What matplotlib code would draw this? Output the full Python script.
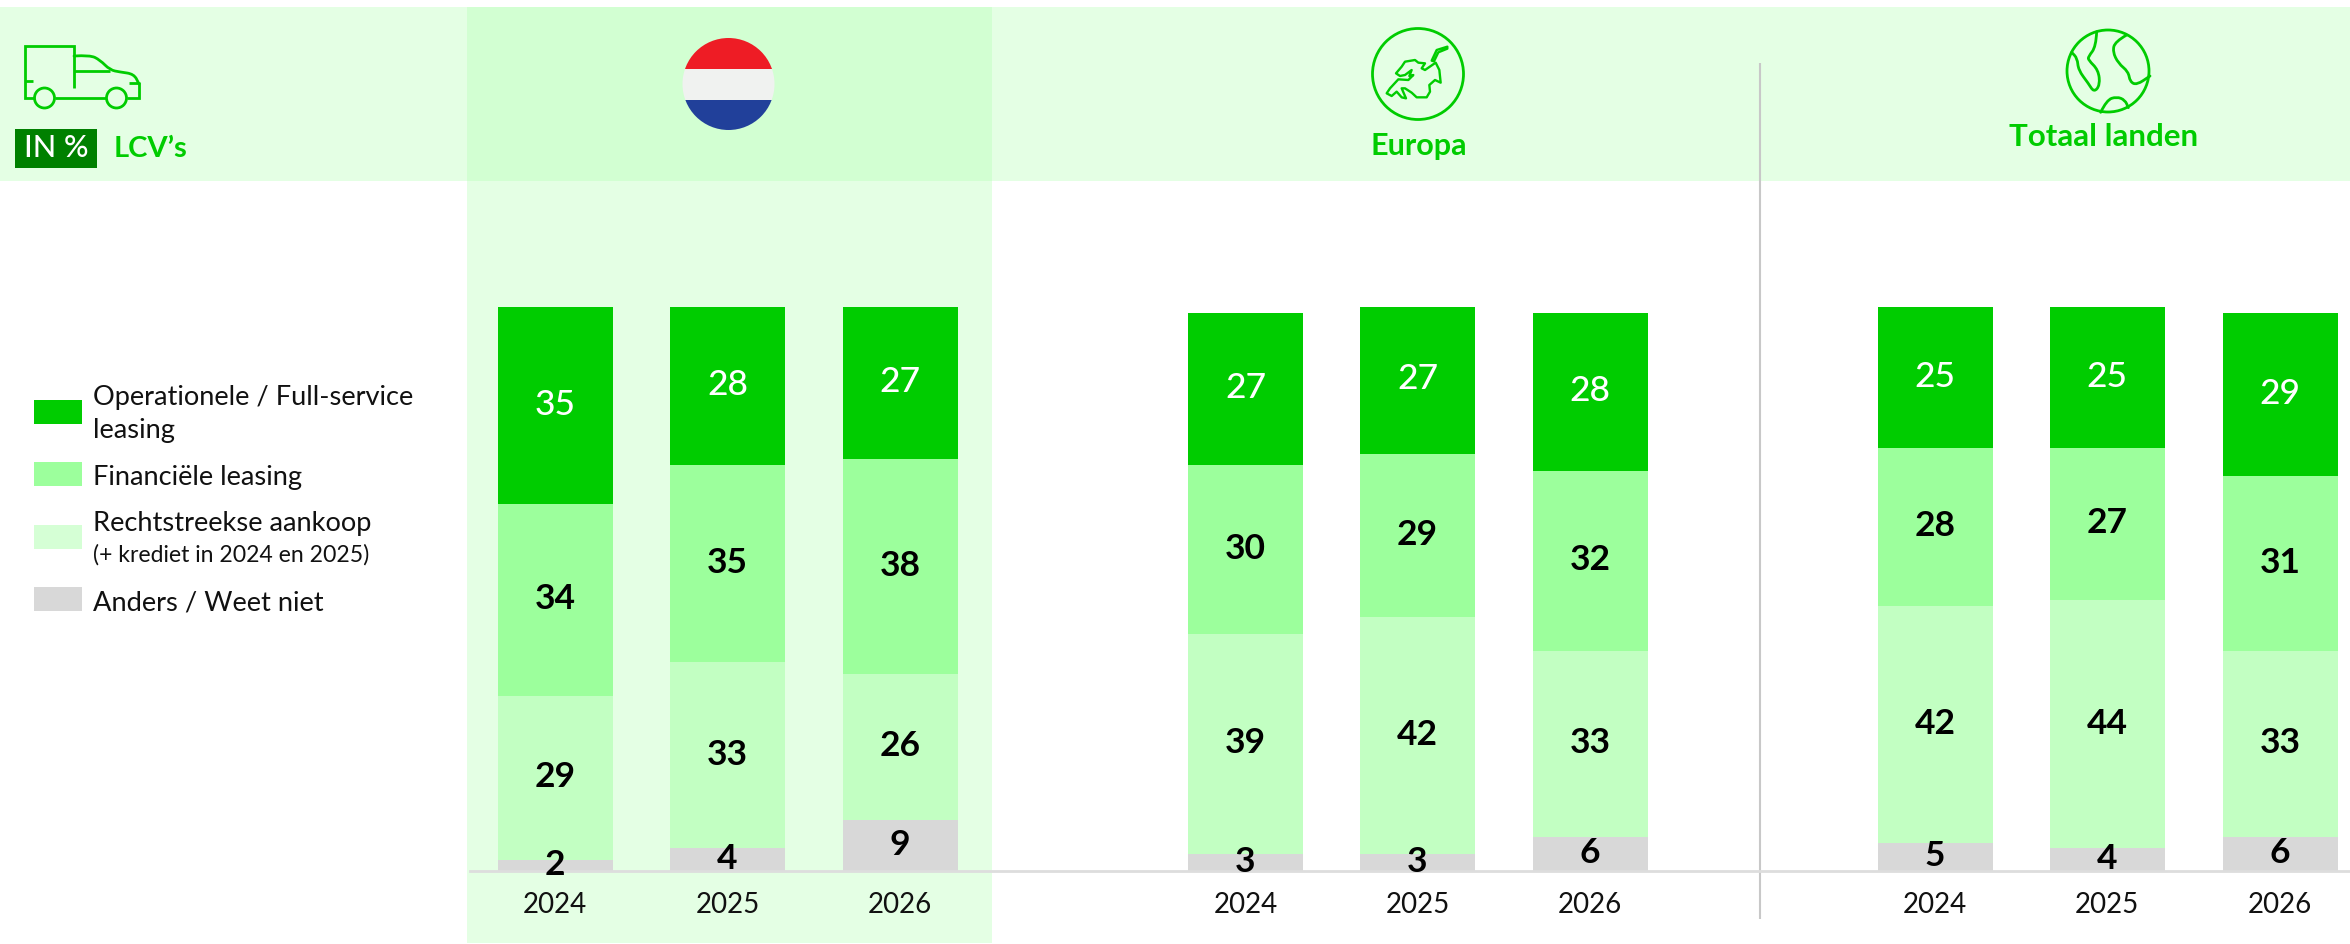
import matplotlib
matplotlib.use("Agg")
import matplotlib.pyplot as plt
from matplotlib.patches import Rectangle, Circle, PathPatch, Polygon
from matplotlib.path import Path

plt.rcParams["font.family"] = ["Lato", "DejaVu Sans"]

W, H = 2350, 944

# ── data ──
years = ["2024", "2025", "2026"]
operationeel = [35, 28, 27, 27, 26, 28, 25, 25, 29]
operationeel_labels = [35, 28, 27, 27, 27, 28, 25, 25, 29]
financieel = [34, 35, 38, 30, 29, 32, 28, 27, 31]
rechtstreeks = [29, 33, 26, 39, 42, 33, 42, 44, 33]
anders = [2, 4, 9, 3, 3, 6, 5, 4, 6]
legend_labels = ["Operationele / Full-service", "leasing", "Financiële leasing",
                 "Rechtstreekse aankoop", "(+ krediet in 2024 en 2025)", "Anders / Weet niet"]

GREEN, MID, LIGHT, GREY = "#00CC00", "#9CFF9C", "#C2FFC2", "#D8D8D8"
DARK, TXT = "#008000", "#111111"
BAND, BAND2 = "#E4FFE4", "#D2FFD2"
x_pos = [555, 727.5, 900, 1245.5, 1417.5, 1590, 1935, 2107, 2280]

fig = plt.figure(figsize=(W / 100, H / 100), dpi=100, facecolor="white")

# achtergrond en iconen in pixels
bg = fig.add_axes([0, 0, 1, 1], zorder=0)
bg.set_xlim(0, W); bg.set_ylim(H, 0); bg.axis("off")
bg.add_patch(Rectangle((0, 7), W, 174, fc=BAND, ec="none"))
bg.add_patch(Rectangle((467, 7), 525, 936, fc=BAND, ec="none"))
bg.add_patch(Rectangle((467, 7), 525, 174, fc=BAND2, ec="none"))
bg.plot([1760, 1760], [63, 919], color="#C8C8C8", lw=1.5, solid_capstyle="butt")


def smooth(pts):
    # kwadratische curve door de middens van de punten
    verts, codes = [pts[0]], [Path.MOVETO]
    for a, b in zip(pts[1:-1], pts[2:]):
        verts += [a, ((a[0] + b[0]) / 2, (a[1] + b[1]) / 2)]
        codes += [Path.CURVE3, Path.CURVE3]
    verts.append(pts[-1]); codes.append(Path.LINETO)
    return Path(verts, codes)


def stroke(pts, lw=2.0):
    bg.add_patch(PathPatch(smooth(pts), fc="none", ec=GREEN, lw=lw, capstyle="round", joinstyle="round"))


# vrachtwagen
kw = dict(color=GREEN, lw=2.0, solid_capstyle="butt", solid_joinstyle="miter")
bg.plot([74, 74, 24.5, 24.5, 35], [88, 45.5, 45.5, 98, 98], **kw)
bg.plot([55, 106], [98, 98], **kw)
bg.plot([127, 139, 139], [98, 98, 82], **kw)
bg.plot([74, 110], [71, 71], **kw)
bg.plot([24.5, 33], [80.5, 80.5], **kw)
bg.plot([129, 139], [82.5, 82.5], **kw)
stroke([(74, 56), (90, 55), (100, 60), (110, 70), (120, 72), (134, 74), (139, 84)])
for cx in (44.5, 116.5):
    bg.add_patch(Circle((cx, 98), 10, fc="none", ec=GREEN, lw=2.0))

bg.add_patch(Rectangle((15, 129), 82, 39, fc=DARK, ec="none"))
bg.text(56, 157, "IN %", color="white", fontsize=22, fontweight="medium", ha="center", va="baseline")
bg.text(114, 157, "LCV’s", color=GREEN, fontsize=21, fontweight="bold", ha="left", va="baseline")

# vlag
flag = Circle((728.5, 84), 46, transform=bg.transData)
for y0, h, col in [(38, 31, "#EE1C25"), (69, 31, "#F0F2F0"), (100, 31, "#21409A")]:
    r = Rectangle((680, y0), 97, h, fc=col, ec="none")
    bg.add_patch(r)
    r.set_clip_path(flag)

# Europa
bg.add_patch(Circle((1418, 74), 45.5, fc="none", ec=GREEN, lw=2.0))
eiland = [(232, 80), (200, 90), (185, 122), (192, 124), (205, 97), (232, 86)]
europa = [(197, 128), (208, 150), (212, 188), (195, 180), (178, 195),
          (180, 215), (170, 232), (140, 232), (125, 218), (105, 205), (95, 205), (108, 235), (95, 232),
          (80, 215), (65, 228), (50, 220), (60, 205), (85, 178), (115, 180), (130, 165), (118, 168),
          (125, 150), (105, 165), (90, 168), (78, 160), (95, 140), (105, 125), (135, 120), (145, 128),
          (165, 130), (155, 145), (165, 150)]
for vorm in (eiland, europa):
    bg.add_patch(Polygon([(1370 + x / 3, 20 + y / 3) for x, y in vorm], closed=True, fc="none", ec=GREEN,
                         lw=1.7, joinstyle="round"))
bg.text(1419, 155, "Europa", color=GREEN, fontsize=22, fontweight="bold", ha="center", va="baseline")

# wereldbol
bg.add_patch(Circle((2108, 71), 41, fc="none", ec=GREEN, lw=2.0))
for curve in (
    [(320, 50), (318, 95), (295, 125), (295, 135), (325, 165), (330, 210), (312, 232), (295, 205),
     (265, 165), (262, 130), (245, 112)],
    [(410, 60), (375, 80), (368, 110), (385, 145), (415, 170), (420, 200), (440, 210), (480, 183)],
    [(332, 292), (350, 255), (380, 245), (405, 255), (415, 278)],
):
    stroke([(1990 + x / 3, 15 + y / 3) for x, y in curve])
bg.text(2104, 146, "Totaal landen", color=GREEN, fontsize=22.5, fontweight="bold", ha="center", va="baseline")

# legenda
for y0, col in [(400, GREEN), (462, MID), (525, "#D5FFD5"), (587, GREY)]:
    bg.add_patch(Rectangle((34, y0), 48, 24, fc=col, ec="none"))
for lab, yb, fs in zip(legend_labels, [405, 438, 485, 531, 562, 611], [19.6, 19.6, 19.6, 19.6, 16.6, 19.6]):
    bg.text(93, yb, lab, color=TXT, fontsize=fs, ha="left", va="baseline")

# ── staven ──
ax = fig.add_axes([0, (H - 871) / H, 1, 564 / H], zorder=1)
ax.patch.set_visible(False)
ax.set_xlim(0, W); ax.set_ylim(0, 100)
bottom = [0] * 9
for vals, col in [(anders, GREY), (rechtstreeks, LIGHT), (financieel, MID), (operationeel, GREEN)]:
    ax.bar(x_pos, vals, width=115, bottom=bottom, color=col, lw=0)
    bottom = [b + v for b, v in zip(bottom, vals)]

bottom = [0] * 9
for vals, labs, col, wgt in [(anders, anders, "black", "bold"), (rechtstreeks, rechtstreeks, "black", "bold"),
                             (financieel, financieel, "black", "bold"),
                             (operationeel, operationeel_labels, "white", "medium")]:
    for x, b, v, lab in zip(x_pos, bottom, vals, labs):
        ax.text(x, b + v / 2 + 0.15, str(lab), color=col, fontsize=25.5, fontweight=wgt,
                ha="center", va="center", clip_on=False)
    bottom = [b + v for b, v in zip(bottom, vals)]

for s in ("top", "left", "right"):
    ax.spines[s].set_visible(False)
ax.spines["bottom"].set_color("#DDDDDD")
ax.spines["bottom"].set_linewidth(2)
ax.spines["bottom"].set_bounds(470, W)
ax.set_yticks([])
ax.set_xticks(x_pos, years * 3, fontsize=20, color=TXT)
ax.tick_params(axis="x", length=0, pad=15)

fig.savefig("out.png", dpi=100)
